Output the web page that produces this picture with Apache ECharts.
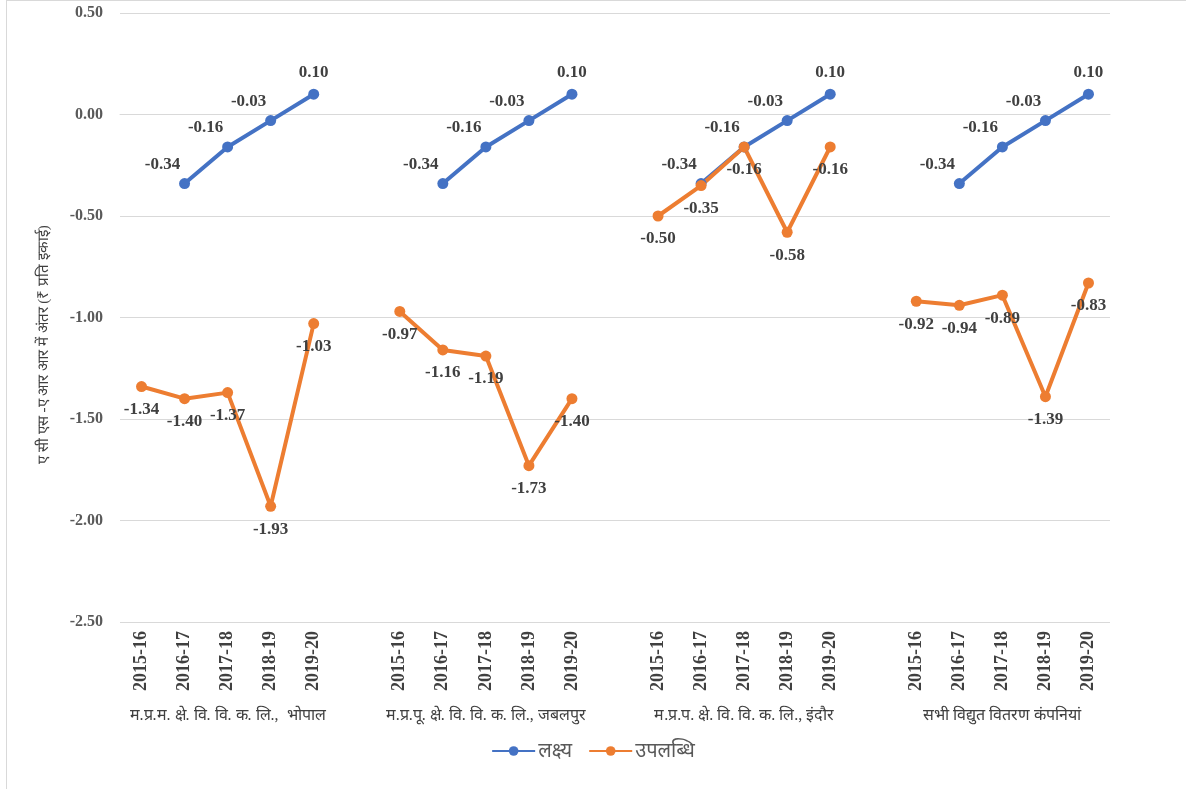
<!DOCTYPE html>
<html>
<head>
<meta charset="utf-8">
<script src="https://cdn.jsdelivr.net/npm/echarts@6/dist/echarts.min.js"></script>
<style>
html,body{margin:0;padding:0;background:#fff;}
#wrap{position:relative;width:1186px;height:789px;overflow:hidden;}
#c{width:1186px;height:789px;}
#frame{position:absolute;left:6px;top:0;width:1300px;height:1000px;border-left:1px solid #d9d9d9;border-top:1px solid #d9d9d9;pointer-events:none;}
</style>
</head>
<body>
<div id="wrap"><div id="c"></div><div id="frame"></div></div>
<script>
const years = ['2015-16','2016-17','2017-18','2018-19','2019-20'];
const groups = ['म.प्र.म. क्षे. वि. वि. क. लि.,  भोपाल','म.प्र.पू. क्षे. वि. वि. क. लि., जबलपुर','म.प्र.प. क्षे. वि. वि. क. लि., इंदौर','सभी विद्युत वितरण कंपनियां'];
const targetBhopal = [null,-0.34,-0.16,-0.03,0.10];
const targetJabalpur = [null,-0.34,-0.16,-0.03,0.10];
const targetIndore = [null,-0.34,-0.16,-0.03,0.10];
const targetAll = [null,-0.34,-0.16,-0.03,0.10];
const achBhopal = [-1.34,-1.40,-1.37,-1.93,-1.03];
const achJabalpur = [-0.97,-1.16,-1.19,-1.73,-1.40];
const achIndore = [-0.50,-0.35,-0.16,-0.58,-0.16];
const achAll = [-0.92,-0.94,-0.89,-1.39,-0.83];
const yTicks = ['0.50','0.00','-0.50','-1.00','-1.50','-2.00','-2.50'];
const seriesNames = ['लक्ष्य','उपलब्धि'];
const yTitle = 'ए सी एस -ए आर आर में अंतर (₹ प्रति इकाई)';

// build combined category axis with one blank slot between groups
const cats = [], groupCats = [];
const targetGroups = [targetBhopal,targetJabalpur,targetIndore,targetAll];
const achGroups = [achBhopal,achJabalpur,achIndore,achAll];
const tData = [], aData = [];
groups.forEach((g,gi)=>{
  years.forEach((y,yi)=>{
    cats.push(y);
    groupCats.push(yi===2 ? g : '');
    tData.push(targetGroups[gi][yi]);
    aData.push(achGroups[gi][yi]);
  });
  if (gi < groups.length-1){ cats.push(''); groupCats.push(''); tData.push(null); aData.push(null); }
});
const tItems = tData.map((v,i)=>{
  const last = (i+1<tData.length? tData[i+1]===null : true) && v!==null;
  return last ? {value:v,label:{offset:[0,-3]}} : v;
});

const serif = 'Liberation Serif, Times New Roman, serif';
const chart = echarts.init(document.getElementById('c'));
chart.setOption({
  animation:false,
  backgroundColor:'#fff',
  grid:{left:120,right:76,top:13,bottom:167,containLabel:false},
  legend:{
    top:736,left:'center',itemWidth:43,itemHeight:12,itemGap:16,
    textStyle:{fontFamily:'Noto Sans, sans-serif',fontSize:20,color:'#595959',padding:[0,0,0,-2]},
    data:seriesNames
  },
  xAxis:[{
    type:'category',data:cats,boundaryGap:true,
    axisLine:{lineStyle:{color:'#d9d9d9'}},axisTick:{show:false},
    axisLabel:{interval:0,rotate:90,fontFamily:serif,fontWeight:'bold',fontSize:18,color:'#404040',margin:9}
  },{
    type:'category',data:groupCats,position:'bottom',offset:78,boundaryGap:true,
    axisLine:{show:false},axisTick:{show:false},
    axisLabel:{interval:0,fontFamily:serif,fontSize:16,color:'#404040'}
  }],
  yAxis:{
    type:'value',min:-2.5,max:0.5,interval:0.5,
    name:yTitle,nameLocation:'middle',nameGap:68,nameRotate:90,
    nameTextStyle:{fontFamily:serif,fontSize:15,color:'#404040',padding:[0,54,0,0]},
    axisLine:{show:false},axisTick:{show:false},
    splitLine:{lineStyle:{color:'#d9d9d9',width:1}},
    axisLabel:{fontFamily:serif,fontWeight:'bold',fontSize:16,color:'#595959',margin:17,
      formatter:v=>v.toFixed(2)}
  },
  series:[{
    name:seriesNames[0],type:'line',data:tItems,connectNulls:false,
    symbol:'circle',symbolSize:11,
    lineStyle:{color:'#4472c4',width:4},itemStyle:{color:'#4472c4'},
    label:{show:true,position:'top',offset:[-22,0],fontFamily:serif,fontWeight:'bold',fontSize:17,color:'#404040',
      formatter:p=>Number(p.value).toFixed(2)}
  },{
    name:seriesNames[1],type:'line',data:aData,connectNulls:false,
    symbol:'circle',symbolSize:11,
    lineStyle:{color:'#ed7d31',width:4},itemStyle:{color:'#ed7d31'},
    label:{show:true,position:'bottom',offset:[0,4],fontFamily:serif,fontWeight:'bold',fontSize:17,color:'#404040',
      formatter:p=>Number(p.value).toFixed(2)}
  }]
});
</script>
</body>
</html>
